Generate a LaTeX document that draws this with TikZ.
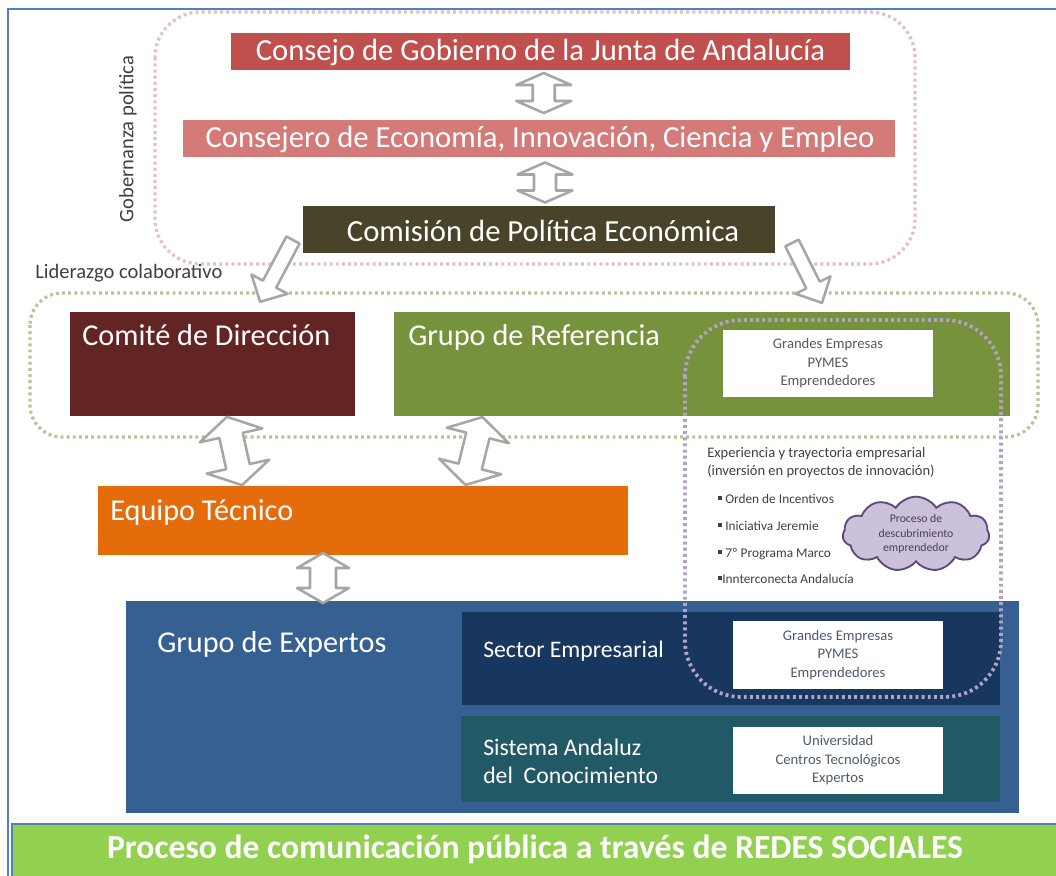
\documentclass[tikz,border=0pt]{standalone}
\usepackage{fontspec}
\setmainfont{Carlito}
\usetikzlibrary{calc,fit,shapes.symbols}
\definecolor{cRed}{HTML}{C0504D}
\definecolor{cPink}{HTML}{D47B79}
\definecolor{cOlive}{HTML}{494429}
\definecolor{cMaroon}{HTML}{632523}
\definecolor{cGreen}{HTML}{76923C}
\definecolor{cOrange}{HTML}{E46C0A}
\definecolor{cBlue}{HTML}{366092}
\definecolor{cNavy}{HTML}{17375E}
\definecolor{cTeal}{HTML}{215967}
\definecolor{cLime}{HTML}{92D050}
\definecolor{cFrame}{HTML}{4F81BD}
\definecolor{cPinkDot}{HTML}{E6BFBF}
\definecolor{cTanDot}{HTML}{C4BD97}
\definecolor{cPurpleDot}{HTML}{B3A2C7}
\definecolor{cCloudFill}{HTML}{CCC1DA}
\definecolor{cCloudLine}{HTML}{5F497A}
\definecolor{cArrow}{HTML}{A6A6A6}
\definecolor{cText}{HTML}{404040}
\definecolor{cSmall}{HTML}{595959}
\definecolor{cSlate}{HTML}{4F5B6E}
\tikzset{
  box/.style={inner sep=0pt, outer sep=0pt},
  bigtitle/.style={inner sep=0pt, text=white, font=\fontsize{23}{27}\selectfont},
  boxtitle/.style={anchor=base west, inner sep=0pt, text=white, font=\fontsize{22.7}{26}\selectfont},
  subtitle/.style={anchor=base west, inner sep=0pt, text=white, font=\fontsize{17.8}{21}\selectfont, align=left},
  smalltext/.style={inner sep=0pt, align=center, font=\fontsize{11}{13.9}\selectfont},
  dotline/.style={line width=2.4pt, dash pattern=on 2.2pt off 2.4pt},
  blockarrow/.style={draw=cArrow, fill=white, line width=1.9pt, line join=round},
  bulletitem/.style={anchor=base west, inner sep=0pt, text=cText, font=\fontsize{10}{12}\selectfont},
  pics/dblarrow/.style n args={4}{code={
    \path[blockarrow] (0,{-#1/2}) -- ({#2/2},{-#1/2+#4}) -- ({#3/2},{-#1/2+#4})
      -- ({#3/2},{#1/2-#4}) -- ({#2/2},{#1/2-#4}) -- (0,{#1/2})
      -- ({-#2/2},{#1/2-#4}) -- ({-#3/2},{#1/2-#4}) -- ({-#3/2},{-#1/2+#4})
      -- ({-#2/2},{-#1/2+#4}) -- cycle;
  }},
  pics/sglarrow/.style n args={4}{code={
    \path[blockarrow] ({-#3/2},0) -- ({#3/2},0) -- ({#3/2},{#1-#4}) -- ({#2/2},{#1-#4})
      -- (0,{#1}) -- ({-#2/2},{#1-#4}) -- ({-#3/2},{#1-#4}) -- cycle;
  }},
}
\newcommand{\sqbullet}{\rule[0.2em]{0.3em}{0.3em}}
\begin{document}
\begin{tikzpicture}[x=0.75pt,y=-0.75pt]
\useasboundingbox (0,0) rectangle (1056,875);
\fill[white] (0,0) rectangle (1056,875);
% outer frame
\draw[cFrame, line width=1.4pt] (8,9) rectangle (1075,895);

% political governance group
\draw[cPinkDot, dotline, rounded corners=34] (155,12) rectangle (915,264);
\node[rotate=90, text=cText, font=\fontsize{15.4}{17}\selectfont] (gob) at (128,139) {Gobernanza política};

\node[box, fill=cRed, fit={(231,33) (850,70)}] (consejo) {};
\node[bigtitle] (consejot) at ($(consejo.center)+(0,1)$) {Consejo de Gobierno de la Junta de Andalucía};
\node[box, fill=cPink, fit={(183,120) (895,157)}] (consejero) {};
\node[bigtitle] (consejerot) at ($(consejero.center)+(1,1)$) {Consejero de Economía, Innovación, Ciencia y Empleo};
\node[box, fill=cOlive, fit={(303,206) (775,253)}] (comision) {};
\node[bigtitle] (comisiont) at ($(comision.center)+(4,1)$) {Comisión de Política Económica};

% collaborative leadership group
\node[anchor=base west, inner sep=0pt, text=cText, font=\fontsize{15.4}{17}\selectfont] (lider) at (35,278) {Liderazgo colaborativo};
\draw[cTanDot, dotline, rounded corners=24] (30,293) rectangle (1038,437);

\node[box, fill=cMaroon, fit={(70,312) (355,416)}] (comite) {};
\node[boxtitle] (comitet) at ($(comite.north west)+(12,33)$) {Comité de Dirección};
\node[box, fill=cGreen, fit={(394,312) (1010,416)}] (grupo) {};
\node[boxtitle] (grupot) at ($(grupo.north west)+(14,33)$) {Grupo de Referencia};
\node[box, fill=white, fit={(723,330) (933,397)}] (grupow) {};
\node[smalltext, text=cSmall] (grupowt) at (grupow.center) {Grandes Empresas\\PYMES\\Emprendedores};

% technical team
\node[box, fill=cOrange, fit={(98,486) (628,555)}] (equipo) {};
\node[boxtitle] (equipot) at ($(equipo.north west)+(12,34)$) {Equipo Técnico};

% experts group
\node[box, fill=cBlue, fit={(126,601) (1019,813)}] (expertos) {};
\node[boxtitle] (expertost) at ($(expertos.north west)+(31,51)$) {Grupo de Expertos};
\node[box, fill=cNavy, fit={(462,612) (1000,705)}] (sector) {};
\node[subtitle] (sectort) at ($(sector.north west)+(21,45)$) {Sector Empresarial};
\node[box, fill=white, fit={(733,621) (943,689)}] (sectorw) {};
\node[smalltext, text=cSlate] (sectorwt) at (sectorw.center) {Grandes Empresas\\PYMES\\Emprendedores};
\node[box, fill=cTeal, fit={(461,716) (1000,802)}] (sistema) {};
\node[subtitle] (sistemat) at ($(sistema.north west)+(22,67)$) {Sistema Andaluz\\del\ \ Conocimiento};
\node[box, fill=white, fit={(733,727) (943,794)}] (sistemaw) {};
\node[smalltext, text=cSlate] (sistemawt) at (sistemaw.center) {Universidad\\Centros Tecnológicos\\Expertos};

% entrepreneurial experience
\draw[cPurpleDot, dotline, line width=2.8pt, rounded corners=42] (685,320) rectangle (1001,697);
\node[anchor=base west, inner sep=0pt, align=left, text=cText, font=\fontsize{10.9}{13.5}\selectfont] (exper) at (707,475) {Experiencia y trayectoria empresarial\\(inversión en proyectos de innovación)};
\node[bulletitem] (b1) at (718,503) {\sqbullet\ Orden de Incentivos};
\node[bulletitem] (b2) at (718,530) {\sqbullet\ Iniciativa Jeremie};
\node[bulletitem] (b3) at (718,557) {\sqbullet\ 7º Programa Marco};
\node[bulletitem] (b4) at (718,583) {\sqbullet Innterconecta Andalucía};
\node[cloud, cloud puffs=11, cloud puff arc=115, aspect=2, draw=cCloudLine, fill=cCloudFill, line width=1.4pt,
      minimum width=110pt, minimum height=56pt, inner sep=0pt, align=center, text=cCloudLine!80!black,
      font=\fontsize{8.8}{10.8}\selectfont] (cloud) at (916,534) {Proceso de\\descubrimiento\\emprendedor};

% public communication bar
\node[box, draw=cFrame, line width=1.4pt, fill=cLime, fit={(12,824) (1075,895)}] (bar) {};
\node[text=white, font=\bfseries\fontsize{25.2}{28}\selectfont] (bart) at (535,849) {Proceso de comunicación pública a través de REDES SOCIALES};

% block arrows (connectors)
\pic at ($(consejo.south)!0.5!(consejero.north)+(4,-2)$) {dblarrow={40}{55}{22}{12}};
\pic at ($(consejero.south)!0.5!(comision.north)+(6,1)$) {dblarrow={40}{55}{22}{12}};
\pic[rotate=-28] at ($(comision.south west)+(-10,-13)$) {sglarrow={70}{41}{15}{20}};
\pic[rotate=26.6] at ($(comision.south east)+(17,-10)$) {sglarrow={67}{39}{15}{20}};
\pic[rotate=12.5] at ($(comite.south)+(22,35)$) {dblarrow={70}{64}{24}{19}};
\pic[rotate=-14] at ($(grupo.south west)+(80,35)$) {dblarrow={70}{64}{24}{19}};
\pic at ($(equipo.south)+(-40,23)$) {dblarrow={50}{52}{26}{15}};
\end{tikzpicture}
\end{document}
